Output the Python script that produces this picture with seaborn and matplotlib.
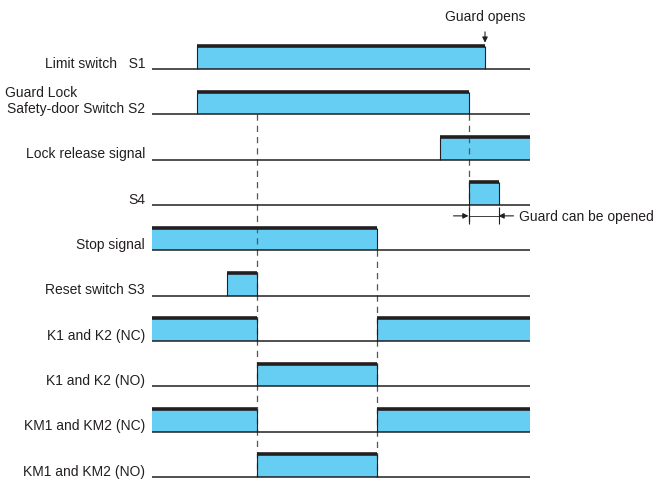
import matplotlib
matplotlib.use("Agg")
import matplotlib.pyplot as plt
import seaborn as sns

# signal rows (top to bottom) and their "on" intervals in time units
labels = ["Limit switch   S1", "Safety-door Switch S2", "Lock release signal", "S4",
          "Stop signal", "Reset switch S3", "K1 and K2 (NC)", "K1 and K2 (NO)",
          "KM1 and KM2 (NC)", "KM1 and KM2 (NO)"]
t_end = 12.6
intervals = [
    [(1.5, 11.1)],
    [(1.5, 10.55)],
    [(9.6, 12.6)],
    [(10.55, 11.55)],
    [(0.0, 7.5)],
    [(2.5, 3.5)],
    [(0.0, 3.5), (7.5, 12.6)],
    [(3.5, 7.5)],
    [(0.0, 3.5), (7.5, 12.6)],
    [(3.5, 7.5)],
]
# dashed guide lines: (time, from row, to row)
guides = [(3.5, 1, 9), (7.5, 4, 9), (10.55, 1, 3.42)]
guard_opens_t = 11.1
window = (10.55, 11.55)

sns.set_theme(style="white")
plt.rcParams["font.family"] = ["Liberation Sans", "DejaVu Sans"]

fill_col = "#66cdf3"
dark = "#231f20"
h = 0.5

fig = plt.figure(figsize=(6.67, 4.79), dpi=100)
ax = fig.add_axes([0, 0, 1, 1])

for i, (lab, segs) in enumerate(zip(labels, intervals)):
    base = -i
    ax.hlines(base, 0, t_end, color=dark, lw=1.1, zorder=3)
    for a, b in segs:
        ax.fill_between([a, b], base, base + h, color=fill_col, lw=0, zorder=1)
        ax.hlines(base + h, a, b, color=dark, lw=2.6, zorder=3)
        edges = [e for e in (a, b) if 0 < e < t_end]
        ax.vlines(edges, base, base + h, color=dark, lw=0.8, zorder=3)
    if i == 1:
        ax.text(-4.9, base + 0.38, "Guard Lock", ha="left", va="baseline", fontsize=10, color=dark)
    ax.text(-0.23, base + 0.03, lab, ha="right", va="baseline", fontsize=10, color=dark)

for t, r0, r1 in guides:
    ax.vlines(t, -r0, -r1, color="#555555", lw=0.9, linestyles=(0, (5, 4)), zorder=2)

# "Guard opens" arrow
ax.text(guard_opens_t, 1.06, "Guard opens", ha="center", va="baseline", fontsize=10, color=dark)
ax.annotate("", xy=(guard_opens_t, h + 0.02), xytext=(guard_opens_t, 0.88),
            arrowprops=dict(arrowstyle="-|>", color=dark, lw=0.8, mutation_scale=8))

# "Guard can be opened" dimension
yd = -3.24
ax.vlines(window, -3.04, -3.42, color=dark, lw=0.8)
ax.hlines(yd, window[0], window[1], color=dark, lw=0.6)
ax.annotate("", xy=(window[0], yd), xytext=(window[0] - 0.5, yd),
            arrowprops=dict(arrowstyle="-|>", color=dark, lw=0.8, mutation_scale=8, shrinkA=0, shrinkB=0))
ax.annotate("", xy=(window[1], yd), xytext=(window[1] + 0.5, yd),
            arrowprops=dict(arrowstyle="-|>", color=dark, lw=0.8, mutation_scale=8, shrinkA=0, shrinkB=0))
ax.text(12.23, -3.35, "Guard can be opened", ha="left", va="baseline", fontsize=10, color=dark)

ax.set_xlim(-152 / 30, (667 - 152) / 30)
ax.set_ylim(-(479 - 69) / 45.33, 69 / 45.33)
ax.axis("off")

fig.savefig("out.png", dpi=100)
